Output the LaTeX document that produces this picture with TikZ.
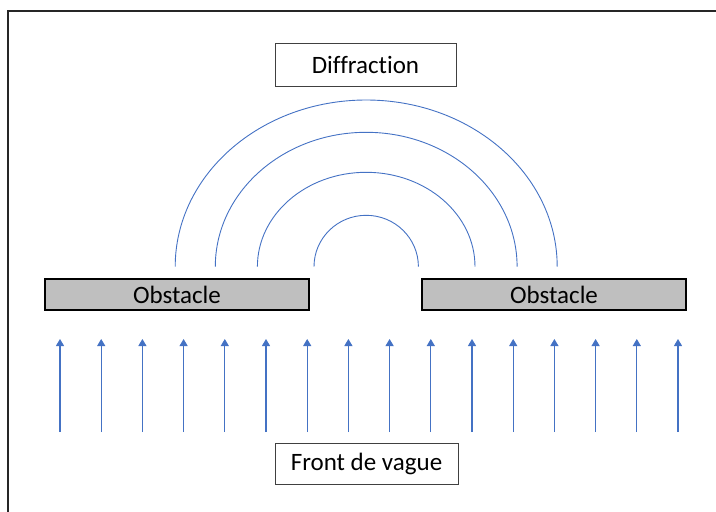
\documentclass[tikz,border=0pt]{standalone}
\usepackage{fontspec}
\setmainfont{Carlito}[Ligatures={NoCommon}]
\usetikzlibrary{arrows.meta}
\definecolor{wave}{HTML}{4472C4}
\definecolor{obstfill}{HTML}{BFBFBF}
\begin{document}
\begin{tikzpicture}[x=1pt,y=-1pt,
  textbox/.style={draw=black!75, line width=0.9pt, fill=white, inner sep=0pt,
    font=\fontsize{25}{30}\selectfont},
  obstbox/.style={draw=black, line width=1.3pt, fill=obstfill, inner sep=0pt,
    minimum width=264pt, minimum height=31pt, font=\fontsize{25}{30}\selectfont},
  wavefront/.style={draw=wave, line width=0.9pt},
  ray/.style={draw=wave, line width=1.1pt, -{Triangle[width=8pt,length=7pt]}}]
\useasboundingbox (0,0) rectangle (716,512);
% outer frame (only the top and left edges fall inside the page)
\draw[line width=1.8pt, black!85] (8,512) -- (8,11) -- (716,11);

% labels
\node[textbox, minimum width=181pt, minimum height=43pt] (diff) at (365.5,64.5) {Diffraction};
\node[textbox, minimum width=183pt, minimum height=41pt] (front) at (366.5,463.5) {Front de vague};

% obstacles
\node[obstbox] (obstL) at (177,294.5) {Obstacle};
\node[obstbox] (obstR) at (554,294.5) {Obstacle};

% diffracted wavefronts
\foreach \rx/\ry in {52.2/51.4, 108.8/94.4, 150.9/134.4, 191/166.7}
  \draw[wavefront] (366.2-\rx,266.7) arc[start angle=180, end angle=360, x radius=\rx, y radius=\ry];

% incoming wave rays
\foreach \i in {0,...,15} {
  \coordinate (b\i) at ({60+41.2*\i},432);
  \coordinate (t\i) at ({60+41.2*\i},339);
  \draw[ray] (b\i) -- (t\i);
}
\end{tikzpicture}
\end{document}
